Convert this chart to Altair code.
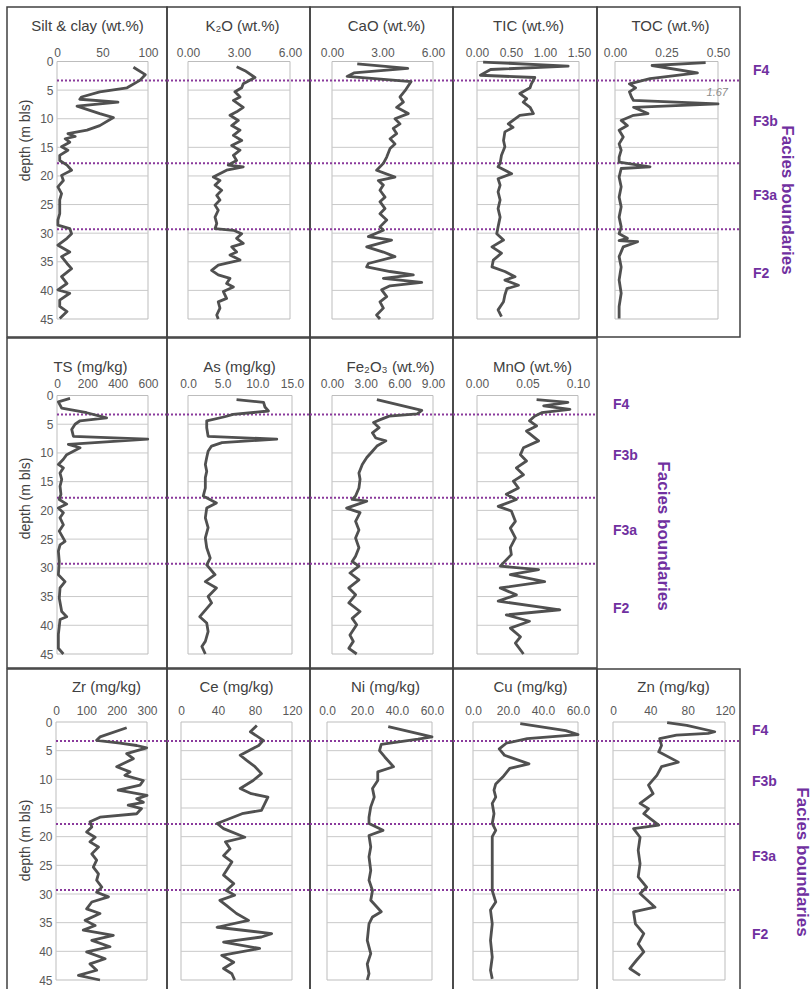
import altair as alt
import pandas as pd

# ---------------------------------------------------------------------------
# Styling
# ---------------------------------------------------------------------------
FONT = "Liberation Sans"
PURPLE_RULE = "#8a3a9c"
PURPLE_TEXT = "#7030a0"
LINE_COLOR = "#505050"
GRID_COLOR = "#c9c9c9"
FRAME_COLOR = "#bdbdbd"
BORDER_COLOR = "#404040"
LABEL_COLOR = "#595959"
TITLE_COLOR = "#404040"

# ---------------------------------------------------------------------------
# Depth axis, facies
# ---------------------------------------------------------------------------
DEPTH_MAX = 45
DEPTH_TICKS = [0, 5, 10, 15, 20, 25, 30, 35, 40, 45]
GRID_DEPTH = [5, 10, 15, 20, 25, 30, 35, 40]
BOUNDARY_DEPTH = [3.3, 17.8, 29.3]
FACIES = ["F4", "F3b", "F3a", "F2"]

# ---------------------------------------------------------------------------
# Profiles (depth in m bls, value)
# ---------------------------------------------------------------------------
SILT_DEPTH = [1.0, 2.3, 3.3, 4.6, 5.3, 6.2, 6.6, 7.1, 7.8, 9.1, 9.8, 11.2, 12.0, 12.6, 13.1, 13.5,
              14.1, 14.9, 15.5, 16.4, 17.3, 18.1, 19.0, 19.9, 20.8, 21.9, 23.1, 24.2, 25.4, 26.6,
              27.7, 28.6, 29.2, 30.1, 30.9, 32.1, 33.3, 34.1, 35.3, 36.2, 37.6, 38.8, 39.9, 40.5,
              41.7, 42.8, 43.7, 44.9]
SILT = [84, 97, 91, 77, 47, 27, 25, 67, 22, 47, 62, 47, 33, 12, 20, 9,
        14, 5, 12, 3, 3, 11, 16, 5, 7, 1, 5, 3, 3, 3,
        1, 1, 14, 16, 11, 1, 14, 5, 11, 16, 5, 11, 1, 14,
        3, 3, 11, 3]

K2O_DEPTH = [0.9, 1.6, 2.8, 3.9, 4.6, 5.3, 6.2, 6.8, 8.0, 8.8, 9.4, 10.3, 11.2, 12.0, 12.9, 13.8,
             14.7, 15.5, 16.4, 17.3, 18.1, 18.4, 19.0, 20.2, 20.8, 21.6, 22.5, 23.4, 24.2, 25.1,
             26.0, 27.2, 28.3, 29.2, 29.5, 30.1, 30.9, 31.8, 32.4, 33.3, 33.8, 34.7, 35.6, 36.5,
             37.3, 37.9, 38.8, 39.4, 40.2, 41.4, 42.0, 43.1, 44.3, 45.0]
K2O = [2.86, 3.35, 3.94, 3.25, 3.16, 2.76, 3.06, 2.67, 3.25, 2.86, 2.47, 2.96, 2.57, 3.06, 2.67, 3.16,
       2.57, 3.06, 2.67, 2.86, 2.37, 3.25, 2.27, 1.49, 1.88, 1.59, 1.98, 1.69, 1.88, 1.59,
       1.78, 1.59, 1.69, 1.59, 2.67, 3.16, 2.86, 3.25, 2.57, 2.86, 2.47, 3.06, 1.78, 1.39,
       1.78, 2.47, 2.27, 2.67, 2.08, 2.27, 1.78, 1.88, 1.69, 1.78]

CAO_DEPTH = [0.4, 1.2, 2.0, 2.6, 3.5, 5.1, 6.2, 7.1, 8.0, 9.1, 10.0, 10.9, 11.7, 12.6, 13.5, 14.4,
             15.2, 16.7, 17.8, 19.0, 20.2, 20.8, 21.6, 22.5, 23.7, 24.5, 25.7, 26.6, 27.7, 28.9,
             29.5, 30.6, 31.2, 32.4, 33.3, 34.1, 35.3, 35.9, 36.7, 37.3, 37.9, 38.6, 39.2, 39.9,
             41.1, 42.0, 43.1, 44.3, 45.0]
CAO = [1.5, 4.5, 1.3, 0.9, 4.7, 4.34, 4.04, 4.24, 3.84, 4.53, 3.74, 4.04, 3.64, 3.84, 3.45, 3.74,
       3.45, 3.25, 3.05, 2.65, 3.74, 2.75, 3.05, 2.85, 3.15, 2.85, 3.15, 2.85, 3.25, 2.85,
       3.05, 2.16, 3.54, 2.06, 3.05, 3.74, 2.16, 2.06, 3.45, 4.83, 3.05, 5.33, 3.45, 2.95,
       3.25, 2.85, 3.05, 2.65, 2.85]

TIC_DEPTH = [0.1, 0.8, 1.4, 2.4, 2.8, 3.9, 4.6, 5.6, 6.5, 7.1, 8.0, 9.1, 9.4, 10.9, 11.5, 12.3,
             13.8, 14.9, 16.4, 17.8, 18.4, 19.6, 20.5, 21.6, 22.8, 24.2, 25.7, 27.2, 28.9, 30.1,
             31.2, 32.4, 33.5, 34.7, 35.9, 36.7, 37.6, 38.2, 39.1, 39.7, 40.8, 42.0, 43.4, 44.6]
TIC = [0.09, 1.34, 0.20, 0.05, 0.85, 0.80, 0.78, 0.63, 0.73, 0.68, 0.78, 0.83, 0.63, 0.46, 0.53, 0.41,
       0.39, 0.41, 0.36, 0.34, 0.31, 0.51, 0.31, 0.34, 0.31, 0.34, 0.31, 0.34, 0.31, 0.29,
       0.39, 0.22, 0.36, 0.24, 0.22, 0.41, 0.56, 0.41, 0.61, 0.44, 0.41, 0.39, 0.31, 0.36]

TOC_DEPTH = [0.2, 0.7, 2.0, 3.0, 3.9, 4.6, 5.3, 6.2, 6.8, 7.4, 8.0, 9.1, 9.4, 10.3, 11.2, 12.0,
             13.2, 14.4, 15.5, 16.7, 17.6, 18.4, 18.7, 20.2, 21.9, 23.7, 25.4, 27.2, 28.9, 30.1,
             30.9, 31.3, 31.5, 32.4, 34.1, 35.9, 38.2, 40.5, 42.8, 44.9]
TOC = [0.44, 0.18, 0.40, 0.17, 0.07, 0.10, 0.07, 0.08, 0.09, 1.67, 0.09, 0.16, 0.09, 0.03, 0.06, 0.02,
       0.04, 0.02, 0.03, 0.02, 0.02, 0.17, 0.03, 0.02, 0.03, 0.02, 0.03, 0.02, 0.03, 0.02,
       0.06, 0.02, 0.11, 0.04, 0.02, 0.03, 0.02, 0.03, 0.02, 0.02]

TS_DEPTH = [0.5, 1.1, 2.2, 3.0, 3.9, 4.4, 5.0, 5.9, 7.1, 7.6, 8.5, 9.1, 10.3, 11.1, 12.0, 12.6,
            13.5, 14.6, 15.8, 17.2, 18.1, 18.9, 19.6, 20.4, 21.3, 22.5, 23.6, 25.4, 26.0, 27.1,
            28.9, 31.2, 32.4, 33.5, 35.3, 37.6, 38.5, 39.0, 41.6, 44.0, 45.0]
TS = [86, 9, 31, 196, 327, 152, 119, 97, 108, 598, 75, 152, 64, 42, 9, 42,
      20, 31, 20, 26, 15, 64, 9, 42, 20, 42, 15, 53, 20, 9,
      15, 9, 53, 20, 15, 31, 64, 20, 9, 9, 42]

AS_DEPTH = [0.7, 1.2, 2.0, 2.7, 3.3, 3.7, 4.4, 5.6, 7.1, 7.6, 8.2, 8.8, 9.7, 10.8, 12.0, 13.2,
            14.3, 16.1, 17.5, 18.7, 19.6, 21.3, 23.0, 24.8, 26.5, 28.3, 29.5, 31.2, 32.4, 33.5,
            35.0, 36.1, 38.5, 39.6, 41.1, 42.8, 43.7, 45.0]
AS = [7.0, 10.9, 11.1, 11.6, 6.5, 5.3, 2.7, 2.7, 2.9, 12.8, 4.9, 3.4, 2.9, 2.7, 2.5, 2.7,
      2.5, 2.5, 2.2, 4.1, 2.7, 2.5, 2.9, 2.5, 2.7, 3.2, 2.7, 3.9, 2.5, 4.1,
      2.9, 3.4, 1.7, 2.7, 2.9, 2.5, 2.0, 2.5]

FE_DEPTH = [0.7, 2.6, 3.2, 3.6, 4.2, 4.7, 5.6, 6.5, 7.4, 7.9, 8.8, 9.7, 10.8, 12.0, 13.5, 14.6,
            16.1, 17.5, 18.1, 18.4, 19.6, 20.4, 21.9, 23.4, 24.8, 26.5, 28.0, 28.9, 29.7, 30.9,
            32.1, 33.5, 34.7, 36.1, 37.6, 38.8, 39.9, 41.7, 42.8, 44.0, 45.0]
FE2O3 = [4.0, 8.0, 7.6, 5.1, 4.3, 3.7, 4.2, 3.6, 3.9, 4.8, 4.0, 3.6, 3.1, 2.7, 2.4, 2.5,
         2.4, 2.1, 1.8, 3.1, 1.3, 2.5, 2.1, 2.4, 2.1, 2.4, 2.1, 1.8, 2.4, 1.6,
         2.4, 1.5, 2.1, 1.5, 2.5, 1.8, 2.2, 1.6, 1.9, 1.5, 2.2]

MNO_DEPTH = [0.7, 1.2, 1.8, 2.4, 3.0, 3.6, 4.4, 5.3, 6.2, 7.9, 9.1, 10.3, 11.4, 12.6, 13.8, 14.9,
             16.1, 17.2, 18.1, 19.3, 20.1, 21.9, 23.1, 24.8, 26.5, 27.7, 29.7, 30.3, 31.2, 32.4,
             33.5, 34.7, 35.8, 37.3, 38.2, 39.3, 40.5, 42.0, 43.1, 45.0]
MNO = [0.059, 0.090, 0.066, 0.092, 0.064, 0.057, 0.052, 0.059, 0.049, 0.061, 0.046, 0.043, 0.049,
       0.039, 0.046, 0.036, 0.041, 0.029, 0.039, 0.021, 0.034, 0.038, 0.033, 0.038, 0.033, 0.034,
       0.023, 0.061, 0.033, 0.067, 0.023, 0.039, 0.021, 0.082, 0.029, 0.052, 0.033, 0.043, 0.038,
       0.046]

ZR_DEPTH = [1.0, 2.6, 3.2, 3.7, 4.1, 4.5, 5.5, 6.4, 7.8, 8.7, 9.3, 10.2, 11.0, 11.9, 12.8, 13.4,
            14.0, 14.5, 15.1, 16.0, 16.6, 17.4, 18.3, 19.2, 20.1, 20.9, 21.8, 23.0, 24.1, 25.3,
            26.5, 27.6, 28.8, 29.7, 30.5, 31.4, 32.6, 33.4, 34.6, 35.5, 36.3, 37.2, 38.1, 39.2,
            40.1, 41.3, 42.2, 43.3, 44.2, 45.0]
ZR = [233, 145, 134, 211, 266, 299, 233, 255, 200, 244, 227, 288, 277, 205, 300, 266,
      288, 238, 282, 266, 145, 112, 118, 101, 129, 112, 140, 118, 134, 123,
      140, 134, 151, 134, 173, 118, 101, 145, 96, 129, 90, 189, 118, 178,
      101, 162, 112, 134, 74, 145]

CE_DEPTH = [0.6, 1.7, 3.2, 4.1, 5.8, 6.7, 7.8, 9.0, 10.2, 11.6, 12.5, 13.1, 15.4, 16.0, 17.7, 18.6,
            20.1, 20.9, 22.1, 23.3, 24.4, 26.7, 28.2, 29.4, 30.2, 31.1, 32.0, 33.4, 34.6, 35.8,
            36.9, 37.5, 38.4, 39.5, 40.7, 41.9, 43.0, 43.9, 45.0]
CE = [82, 75, 89, 84, 64, 71, 80, 87, 78, 64, 76, 94, 87, 66, 39, 46,
      69, 48, 53, 46, 55, 46, 57, 49, 58, 42, 49, 60, 73, 39,
      98, 87, 46, 85, 44, 57, 46, 55, 58]

NI_DEPTH = [0.8, 2.6, 3.0, 3.9, 5.0, 6.1, 7.8, 8.7, 10.2, 11.6, 13.1, 14.8, 16.6, 17.7, 18.9, 19.8,
            21.8, 23.5, 25.9, 27.6, 29.4, 31.1, 33.1, 34.0, 35.2, 38.1, 40.4, 42.2, 43.9, 45.0]
NI = [35, 60, 52, 31, 30, 33, 38, 29, 29, 26, 27, 25, 24, 24, 32, 24,
      25, 24, 25, 24, 26, 25, 31, 26, 24, 23, 25, 23, 24, 23]

CU_DEPTH = [0.3, 1.5, 2.2, 2.9, 3.7, 4.7, 5.8, 7.3, 8.1, 9.6, 10.8, 11.9, 13.1, 14.2, 16.0, 17.7,
            18.9, 20.0, 22.4, 24.7, 27.0, 29.4, 31.4, 32.8, 35.2, 38.1, 41.0, 43.3, 44.8]
CU = [27, 53, 60, 31, 19, 15, 18, 32, 21, 17, 13, 12, 13, 11, 12, 11,
      13, 11, 11, 11, 11, 11, 13, 10, 11, 10, 11, 10, 11]

ZN_DEPTH = [0.1, 0.6, 1.7, 2.0, 2.3, 2.9, 4.1, 5.2, 7.0, 7.8, 9.3, 11.0, 12.5, 14.2, 15.1, 16.0,
            18.0, 18.6, 20.1, 22.4, 24.7, 27.0, 28.8, 29.9, 32.3, 33.1, 35.2, 36.9, 38.7, 40.1,
            41.6, 43.0, 44.2]
ZN = [58, 79, 109, 102, 68, 50, 52, 49, 70, 52, 47, 38, 43, 29, 38, 33,
      49, 22, 29, 27, 29, 27, 36, 29, 45, 22, 24, 33, 27, 33,
      25, 18, 29]

# ---------------------------------------------------------------------------
# Layout of the three rows of panels (pixel geometry inside each cell)
# ---------------------------------------------------------------------------
CELL_H = 330
ROWS = [
    dict(yrange=[54.5, 312], label_pad=2, title_y=18, ytitle_x=18, ytitle_y=133,
         fx=13, cx=47, cy=193),
    dict(yrange=[57.5, 316], label_pad=5, title_y=28, ytitle_x=18, ytitle_y=160,
         fx=16, cx=66, cy=198),
    dict(yrange=[53, 311], label_pad=5, title_y=17, ytitle_x=18, ytitle_y=171,
         fx=12, cx=62, cy=193),
]

PANELS = [
    [
        dict(title="Silt & clay (wt.%)", depth=SILT_DEPTH, values=SILT, max=100,
             ticks=[0, 50, 100], fmt="d", w=160, xr=[50, 141], tx=80),
        dict(title="K\u2082O (wt.%)", depth=K2O_DEPTH, values=K2O, max=6,
             ticks=[0, 3, 6], fmt=".2f", w=143, xr=[21, 123], tx=75),
        dict(title="CaO (wt.%)", depth=CAO_DEPTH, values=CAO, max=6,
             ticks=[0, 3, 6], fmt=".2f", w=143, xr=[22, 123], tx=76),
        dict(title="TIC (wt.%)", depth=TIC_DEPTH, values=TIC, max=1.5,
             ticks=[0, 0.5, 1.0, 1.5], fmt=".2f", w=144, xr=[24, 126], tx=75),
        dict(title="TOC (wt.%)", depth=TOC_DEPTH, values=TOC, max=0.5,
             ticks=[0, 0.25, 0.5], fmt=".2f", w=143, xr=[18, 121], tx=73),
    ],
    [
        dict(title="TS (mg/kg)", depth=TS_DEPTH, values=TS, max=600,
             ticks=[0, 200, 400, 600], fmt="d", w=160, xr=[50, 141], tx=83),
        dict(title="As (mg/kg)", depth=AS_DEPTH, values=AS, max=15,
             ticks=[0, 5, 10, 15], fmt=".1f", w=143, xr=[21, 125], tx=72),
        dict(title="Fe\u2082O\u2083 (wt.%)", depth=FE_DEPTH, values=FE2O3, max=9,
             ticks=[0, 3, 6, 9], fmt=".2f", w=143, xr=[22, 123], tx=80),
        dict(title="MnO (wt.%)", depth=MNO_DEPTH, values=MNO, max=0.1,
             ticks=[0, 0.05, 0.1], fmt=".2f", w=144, xr=[24, 125], tx=79),
    ],
    [
        dict(title="Zr (mg/kg)", depth=ZR_DEPTH, values=ZR, max=300,
             ticks=[0, 100, 200, 300], fmt="d", w=160, xr=[49, 140], tx=99),
        dict(title="Ce (mg/kg)", depth=CE_DEPTH, values=CE, max=120,
             ticks=[0, 40, 80, 120], fmt="d", w=143, xr=[14, 125], tx=69),
        dict(title="Ni (mg/kg)", depth=NI_DEPTH, values=NI, max=60,
             ticks=[0, 20, 40, 60], fmt=".1f", w=143, xr=[17, 122], tx=75),
        dict(title="Cu (mg/kg)", depth=CU_DEPTH, values=CU, max=60,
             ticks=[0, 20, 40, 60], fmt=".1f", w=144, xr=[20, 125], tx=77),
        dict(title="Zn (mg/kg)", depth=ZN_DEPTH, values=ZN, max=120,
             ticks=[0, 40, 80, 120], fmt="d", w=143, xr=[16, 128], tx=76),
    ],
]


def make_panel(row, p, first=False, facies=False):
    top = row["yrange"][0]
    ys = alt.Scale(domain=[0, DEPTH_MAX], range=row["yrange"], nice=False, zero=False)
    xs = alt.Scale(domain=[0, p["max"]], range=p["xr"], nice=False, zero=False, clamp=True)

    xaxis = alt.Axis(
        orient="top", offset=-top, values=p["ticks"], format=p["fmt"],
        grid=False, domain=False, ticks=False, tickSize=0,
        labelPadding=row["label_pad"], labelFlush=False, labelOverlap=False,
        labelFont=FONT, labelFontSize=12, labelColor=LABEL_COLOR,
        title=p["title"], titleX=p["tx"], titleY=row["title_y"] - top,
        titleAlign="center", titleBaseline="middle", titleAngle=0,
        titleFont=FONT, titleFontSize=15, titleFontWeight="normal", titleColor=TITLE_COLOR,
    )
    if first:
        yaxis = alt.Axis(
            orient="left", offset=-p["xr"][0], values=DEPTH_TICKS, format="d",
            grid=False, domain=False, ticks=False, tickSize=0, labelPadding=4,
            labelFont=FONT, labelFontSize=12, labelColor=LABEL_COLOR,
            title="depth (m bls)", titleX=row["ytitle_x"] - p["xr"][0], titleY=row["ytitle_y"],
            titleAngle=-90, titleAlign="center", titleBaseline="middle",
            titleFont=FONT, titleFontSize=14, titleFontWeight="normal", titleColor=TITLE_COLOR,
        )
    else:
        yaxis = None

    # light plot frame and depth gridlines
    frame = alt.Chart(pd.DataFrame({"x0": [0], "x1": [p["max"]], "y0": [0], "y1": [DEPTH_MAX]})).mark_rect(
        fill="white", fillOpacity=0, stroke=FRAME_COLOR, strokeWidth=1
    ).encode(
        x=alt.X("x0:Q", scale=xs, axis=xaxis), x2="x1:Q",
        y=alt.Y("y0:Q", scale=ys, axis=yaxis), y2="y1:Q",
    )
    grid = alt.Chart(pd.DataFrame({"g": GRID_DEPTH, "a": 0, "b": p["max"]})).mark_rule(
        color=GRID_COLOR, strokeWidth=1
    ).encode(
        x=alt.X("a:Q", scale=xs, axis=xaxis), x2="b:Q",
        y=alt.Y("g:Q", scale=ys, axis=yaxis),
    )
    # dotted facies boundaries run across the whole cell
    bounds = alt.Chart(pd.DataFrame({"b": BOUNDARY_DEPTH})).mark_rule(
        color=PURPLE_RULE, strokeWidth=2, strokeDash=[2, 2]
    ).encode(
        y=alt.Y("b:Q", scale=ys, axis=yaxis),
        x=alt.value(p["xr"][0] if first else 0), x2=alt.value(p["w"]),
    )
    df = pd.DataFrame({"depth": p["depth"], "value": p["values"]})
    line = alt.Chart(df).mark_line(
        color=LINE_COLOR, strokeWidth=2.8, strokeJoin="round"
    ).encode(
        x=alt.X("value:Q", scale=xs, axis=xaxis),
        y=alt.Y("depth:Q", scale=ys, axis=yaxis),
        order="depth:Q",
    )
    layers = [frame, grid, bounds, line]

    # values beyond the axis maximum get their number written at the edge
    if max(p["values"]) > p["max"]:
        over = alt.Chart(df).transform_filter(alt.datum.value > p["max"]).mark_text(
            align="right", baseline="middle", dx=10, dy=-11, font=FONT, fontSize=11,
            fontStyle="italic", color="#8c8c8c"
        ).encode(
            x=alt.X("value:Q", scale=xs, axis=xaxis),
            y=alt.Y("depth:Q", scale=ys, axis=yaxis),
            text=alt.Text("value:Q", format=".2f"),
        )
        layers.append(over)

    if facies:
        edges = [0] + BOUNDARY_DEPTH + [DEPTH_MAX]
        mids = [(a + b) / 2 for a, b in zip(edges[:-1], edges[1:])]
        labels = alt.Chart(pd.DataFrame({"f": FACIES, "m": mids})).mark_text(
            align="left", baseline="middle", font=FONT, fontSize=14, fontWeight="bold",
            color=PURPLE_TEXT
        ).encode(
            y=alt.Y("m:Q", scale=ys, axis=yaxis),
            x=alt.value(p["w"] + row["fx"]),
            text="f:N",
        )
        caption = alt.Chart(pd.DataFrame({"t": ["Facies boundaries"]})).mark_text(
            angle=90, align="center", baseline="middle", font=FONT, fontSize=17,
            fontWeight="bold", color=PURPLE_TEXT
        ).encode(
            x=alt.value(p["w"] + row["cx"]), y=alt.value(row["cy"]), text="t:N",
        )
        layers += [labels, caption]

    return alt.layer(*layers).properties(width=p["w"], height=CELL_H)


rows = []
for row, panels in zip(ROWS, PANELS):
    cells = [
        make_panel(row, p, first=(i == 0), facies=(i == len(panels) - 1))
        for i, p in enumerate(panels)
    ]
    rows.append(alt.hconcat(*cells, spacing=0, bounds="flush"))

chart = alt.vconcat(*rows, spacing=-1.5).properties(
    padding={"left": 6, "top": 6, "right": 0, "bottom": 0},
    background="white",
).configure_view(stroke=BORDER_COLOR, strokeWidth=1.5)

chart.save("out.html", embed_options={"renderer": "svg", "actions": False})
